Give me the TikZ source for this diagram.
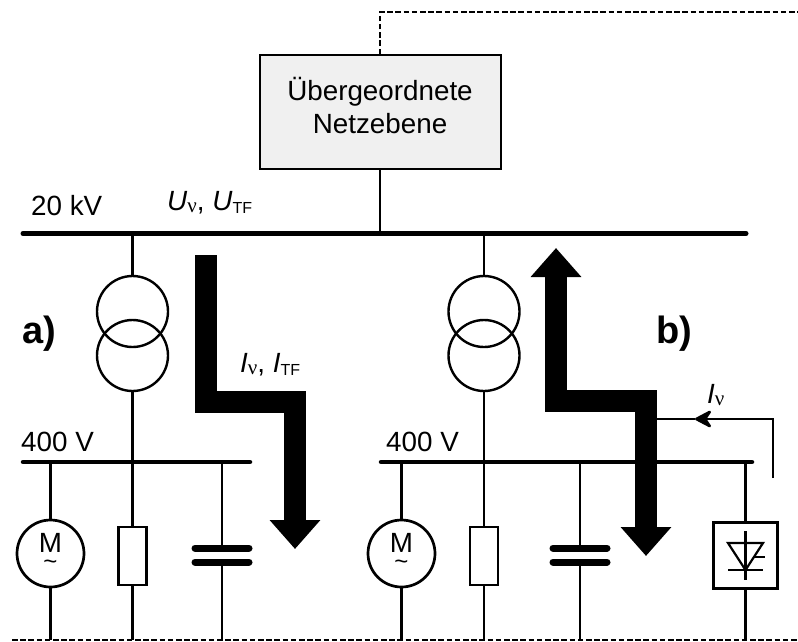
\documentclass[tikz,border=0pt]{standalone}
\usepackage{fontspec}
\setmainfont{Liberation Sans}
\newfontfamily\nufont{Liberation Serif}
\usetikzlibrary{calc}
\usetikzlibrary{arrows.meta}
\definecolor{boxgrey}{HTML}{F0F0F0}
\tikzstyle{wire}=[line width=2.2pt]
\tikzstyle{bus}=[line width=5pt,line cap=round]
\tikzstyle{plate}=[line width=7pt,line cap=round]
\tikzstyle{signal}=[line width=1.9pt,dash pattern=on 5.5pt off 2.7pt]
\tikzstyle{flow}=[line width=22pt,-{Triangle[width=49pt,length=29pt]}]
\tikzstyle{flowboth}=[line width=22pt,{Triangle[width=49pt,length=29pt]}-{Triangle[width=49pt,length=29pt]}]
\tikzstyle{winding}=[draw,circle,line width=2.4pt,minimum size=71pt,inner sep=0pt]
\tikzstyle{motor}=[draw,circle,line width=2.7pt,minimum size=67pt,inner sep=0pt,align=center]
\tikzstyle{resistor}=[draw,rectangle,line width=2.2pt,minimum width=28pt,minimum height=58pt,inner sep=0pt]
\tikzstyle{label}=[anchor=base west,inner sep=0pt]
\newcommand{\normaltxt}{\fontsize{27.8pt}{33pt}\selectfont}
\newcommand{\boldtxt}{\fontsize{38pt}{40pt}\selectfont\bfseries}
\newcommand{\subtxt}[1]{\raisebox{-2.5pt}{\fontsize{16pt}{16pt}\selectfont #1}}
\newcommand{\nusub}{\raisebox{-2pt}{\fontsize{21pt}{21pt}\selectfont\nufont ν}}
\newcommand{\drawtrafo}[2]{
  \coordinate (#1top) at (#2,233.5);
  \coordinate (#1bot) at (#2,462);
  \node[winding] (#1up) at (#2,311.5) {};
  \node[winding] (#1lo) at (#2,355.5) {};
  \draw[wire] (#1top) -- (#1up);
  \draw[wire] (#1lo) -- (#1bot);
}
\newcommand{\drawbranches}[4]{
  \coordinate (#1mtop) at (#2,462);
  \coordinate (#1mbot) at (#2,640);
  \coordinate (#1rbot) at (#3,640);
  \coordinate (#1ctop) at (#4,462);
  \coordinate (#1cbot) at (#4,640);
  \node[motor] (#1motor) at (#2,553.5) {\normaltxt\raisebox{-6.8pt}[0pt][0pt]{\begin{tabular}{@{}c@{}}M\\[-16pt]\fontsize{24pt}{24pt}\selectfont\textasciitilde\end{tabular}}};
  \node[resistor] (#1res) at (#3,556) {};
  \coordinate (#1pa) at (#4,548);
  \coordinate (#1pb) at (#4,562);
  \draw[plate] ($(#1pa)+(-27,0)$) -- ($(#1pa)+(27,0)$);
  \draw[plate] ($(#1pb)+(-27,0)$) -- ($(#1pb)+(27,0)$);
  \draw[wire] (#1mtop) -- (#1motor);
  \draw[wire] (#1motor) -- (#1mbot);
  \draw[wire] (#3,462) -- (#1res);
  \draw[wire] (#1res) -- (#1rbot);
  \draw[wire] (#1ctop) -- (#1pa);
  \draw[wire] (#1pb) -- (#1cbot);
}
\begin{document}
\begin{tikzpicture}[x=1pt,y=-1pt]
  \useasboundingbox (0,0) rectangle (798,641);
  % upper grid
  \node[draw,fill=boxgrey,line width=2pt,minimum width=241pt,minimum height=114pt,inner sep=0pt,align=center] (netz) at (380,112) {\normaltxt\raisebox{-4.3pt}[0pt][0pt]{\begin{tabular}{@{}c@{}}Übergeordnete\\Netzebene\end{tabular}}};
  \coordinate (sigcorner) at (380,12);
  \coordinate (sigend) at (798,12);
  \coordinate (bottomw) at (12,640);
  \coordinate (bottome) at (798,640);
  \draw[signal] (netz.north) -- (sigcorner) -- (sigend);
  \draw[signal] (bottomw) -- (bottome);
  \coordinate (hvw) at (23,233.5);
  \coordinate (hve) at (746,233.5);
  \coordinate (hvtap) at (380,233.5);
  \draw[bus] (hvw) -- (hve);
  \draw[wire] (netz.south) -- (hvtap);
  % a)
  \drawtrafo{a}{132.5}
  \coordinate (lvaw) at (23,462);
  \coordinate (lvae) at (250,462);
  \draw[bus,line width=4.5pt] (lvaw) -- (lvae);
  \drawbranches{a}{50.5}{132.5}{222}
  % b)
  \drawtrafo{b}{484}
  \coordinate (lvbw) at (381,462);
  \coordinate (lvbe) at (752,462);
  \draw[bus,line width=4.5pt] (lvbw) -- (lvbe);
  \drawbranches{b}{401.5}{484}{580}
  % converter
  \node[draw,rectangle,line width=2.2pt,minimum width=64pt,minimum height=66pt,inner sep=0pt] (conv) at (745.5,555.5) {};
  \coordinate (convtop) at (745.5,462);
  \coordinate (convbot) at (745.5,640);
  \draw[wire] (convtop) -- (conv);
  \draw[wire] (conv) -- (convbot);
  \draw[wire] (745.5,531) -- (745.5,580);
  \draw[wire] (728,543) -- (763,543) -- (745.5,570) -- cycle;
  \draw[wire] (728,570) -- (763,570);
  \draw[wire] (755,557) -- (765,557);
  % power flows
  \coordinate (fa1) at (205.5,255);
  \coordinate (fa2) at (205.5,401.5);
  \coordinate (fa3) at (295,401.5);
  \coordinate (fa4) at (295,549);
  \draw[flow] (fa1) -- (fa2) -- (fa3) -- (fa4);
  \coordinate (fb1) at (556,248);
  \coordinate (fb2) at (556,401);
  \coordinate (fb3) at (646,401);
  \coordinate (fb4) at (646,556);
  \draw[flowboth] (fb1) -- (fb2) -- (fb3) -- (fb4);
  % measured current
  \coordinate (ivstart) at (773,478);
  \coordinate (ivcorner) at (773,419);
  \coordinate (ivtip) at (695,419);
  \coordinate (ivend) at (657,419);
  \draw[line width=2.6pt,-{Stealth[length=20pt,width=21pt,inset=7pt,round]}] (ivstart) -- (ivcorner) -- (ivtip);
  \draw[line width=2.6pt] (ivtip) -- (ivend);
  % labels
  \node[label] (lhv) at (31,215.5) {\normaltxt 20 kV};
  \node[label] (lu) at (167,210.5) {\normaltxt\textit{U}\nusub, \textit{U}\subtxt{TF}};
  \node[label] (li) at (240,372.5) {\normaltxt\textit{I}\nusub, \textit{I}\subtxt{TF}};
  \node[label] (lia) at (707,403) {\normaltxt\textit{I}\nusub};
  \node[label] (llva) at (21,451) {\normaltxt 400 V};
  \node[label] (llvb) at (386,451) {\normaltxt 400 V};
  \node[label] (la) at (22,343.5) {\boldtxt a)};
  \node[label] (lb) at (656,343.5) {\boldtxt b)};
\end{tikzpicture}
\end{document}
